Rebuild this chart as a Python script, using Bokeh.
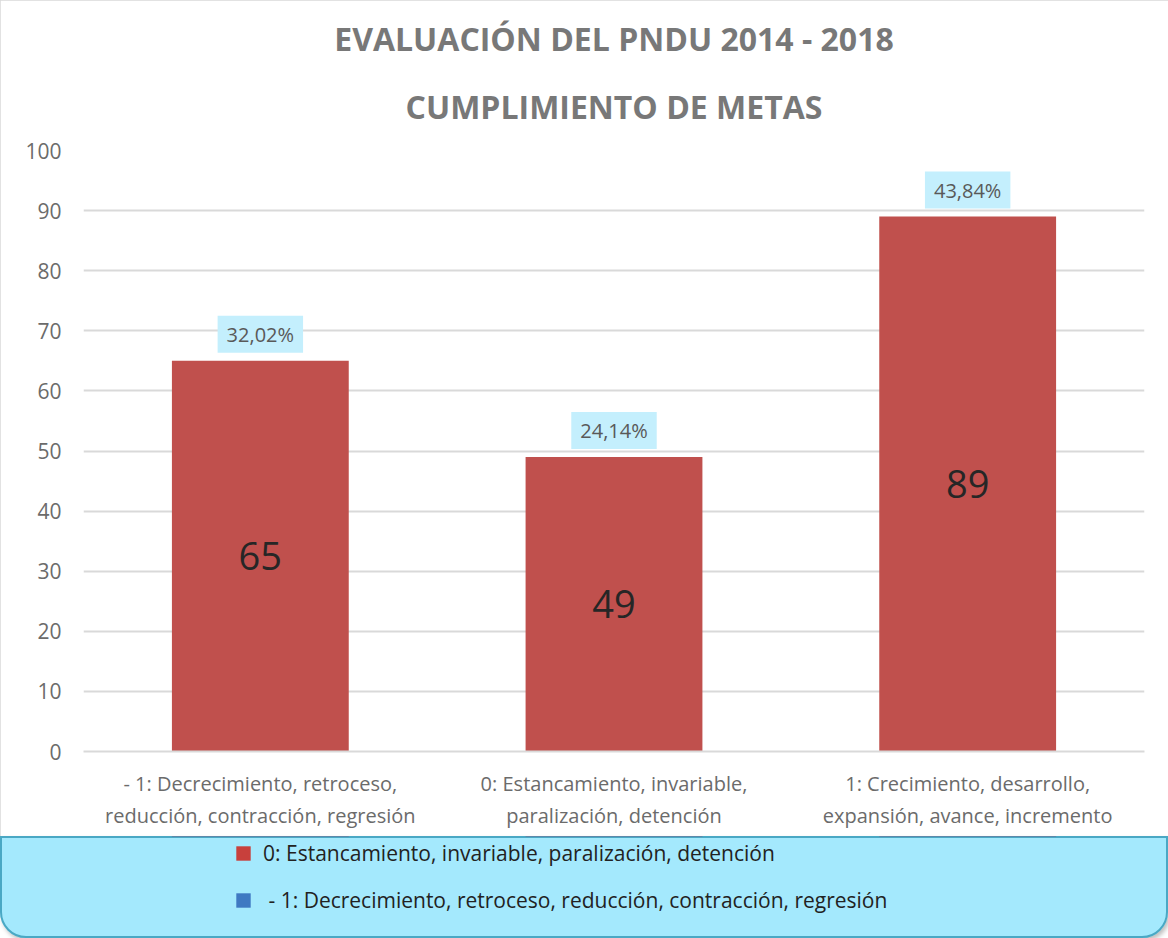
from bokeh.plotting import figure
from bokeh.models import (ColumnDataSource, LabelSet, Label, Title, Legend, LegendItem,
                          FactorRange, Range1d, FixedTicker)
from bokeh.layouts import column
from bokeh.embed import file_html
from bokeh.resources import INLINE
from bokeh.core.properties import value

# ---- data ----
categorias = [
    "- 1: Decrecimiento, retroceso,\nreducción, contracción, regresión",
    "0: Estancamiento, invariable,\nparalización, detención",
    "1: Crecimiento, desarrollo,\nexpansión, avance, incremento",
]
valores = [65, 49, 89]
valores_azul = [0, 0, 0]
porcentajes = ["32,02%", "24,14%", "43,84%"]
serie_roja = "0: Estancamiento, invariable, paralización, detención"
serie_azul = " - 1: Decrecimiento, retroceso, reducción, contracción, regresión"
titulo = ["EVALUACIÓN DEL PNDU 2014 - 2018", "CUMPLIMIENTO DE METAS"]
y_ticks = list(range(0, 101, 10))

FONT = "Open Sans"

src = ColumnDataSource(dict(
    cat=categorias,
    val=valores,
    azul=valores_azul,
    mid=[v / 2 for v in valores],
    pct=porcentajes,
    num=[str(v) for v in valores],
))

W = 1168
p = figure(x_range=FactorRange(*categorias), y_range=Range1d(0, 100),
           width=W, height=836, output_backend="svg", toolbar_location=None,
           min_border_left=83, min_border_right=24, min_border_top=150,
           min_border_bottom=85)
p.background_fill_color = "white"
p.border_fill_color = "white"
p.outline_line_color = None
p.styles = {"outline": "2px solid #d9d9d9", "outline-offset": "-2px"}

# titles (second line added first so it sits closer to the plot)
t2 = Title(text=titulo[1], align="center", text_font=FONT, text_font_size="32px",
           text_font_style="bold", text_color="#787878", standoff=46)
t1 = Title(text=titulo[0], align="center", text_font=FONT, text_font_size="32px",
           text_font_style="bold", text_color="#787878", standoff=0)
p.add_layout(t2, "above")
p.add_layout(t1, "above")

p.vbar(x="cat", top="val", width=0.5, source=src, fill_color="#C0504D",
       line_color=None)

# percentage boxes: x in the factor range's synthetic coordinates (centre of each factor)
for i, (v, t) in enumerate(zip(valores, porcentajes)):
    p.add_layout(Label(x=i + 0.5, y=v, text=t, y_offset=8,
                       text_align="center", text_baseline="bottom",
                       text_font=FONT, text_font_size="20px",
                       text_color="#595959", background_fill_color="#c4effd",
                       padding=(9, 5)))

num_labels = LabelSet(x="cat", y="mid", text="num", source=src,
                      text_align="center", text_baseline="middle",
                      text_font=value(FONT), text_font_size="38px",
                      text_color="#262626")
p.add_layout(num_labels)

p.xgrid.grid_line_color = None
p.ygrid.grid_line_color = "#d9d9d9"
p.ygrid.grid_line_width = 2
p.yaxis.ticker = FixedTicker(ticks=y_ticks)
p.yaxis.axis_line_color = None
p.yaxis.major_tick_line_color = None
p.yaxis.minor_tick_line_color = None
p.yaxis.major_label_text_font = FONT
p.yaxis.major_label_text_font_size = "21px"
p.yaxis.major_label_text_color = "#6b6b6b"
p.yaxis.major_label_standoff = 16

p.xaxis.axis_line_color = "#d9d9d9"
p.xaxis.axis_line_width = 2
p.xaxis.major_tick_line_color = None
p.xaxis.minor_tick_line_color = None
p.xaxis.major_label_text_font = FONT
p.xaxis.major_label_text_font_size = "20px"
p.xaxis.major_label_text_color = "#6b6b6b"
p.xaxis.major_label_standoff = 12

# ---- legend strip (same series; its value range lies outside this strip's view) ----
p2 = figure(width=W, height=102, x_range=FactorRange(*categorias),
            y_range=Range1d(-2, -1), output_backend="svg", toolbar_location=None,
            min_border_left=83, min_border_right=24,
            min_border_top=0, min_border_bottom=0)
p2.axis.visible = False
p2.grid.grid_line_color = None
p2.background_fill_alpha = 0
p2.border_fill_alpha = 0
p2.outline_line_color = None
p2.styles = {"background": "#a4e9fd", "border-radius": "0 0 26px 26px",
             "outline": "2px solid #4aa8c4", "outline-offset": "-2px",
             "box-shadow": "2px 3px 4px rgba(0,0,0,0.25)"}

r_rojo = p2.vbar(x="cat", top="val", width=0.5, source=src,
                 fill_color="#C8403C", line_color=None)
r_azul = p2.vbar(x="cat", top="azul", width=0.5, source=src,
                 fill_color="#3F79C2", line_color=None)
leg = Legend(items=[LegendItem(label=serie_roja, renderers=[r_rojo]),
                    LegendItem(label=serie_azul, renderers=[r_azul])],
             location=(151, 24), background_fill_alpha=0, border_line_color=None,
             padding=0, margin=0, glyph_width=18, glyph_height=18,
             label_height=24, spacing=19, label_standoff=11,
             label_text_font=FONT, label_text_font_size="21px",
             label_text_color="#222222")
p2.add_layout(leg, "center")

layout = column(p, p2, spacing=0)
open("out.html", "w").write(file_html(layout, INLINE))
